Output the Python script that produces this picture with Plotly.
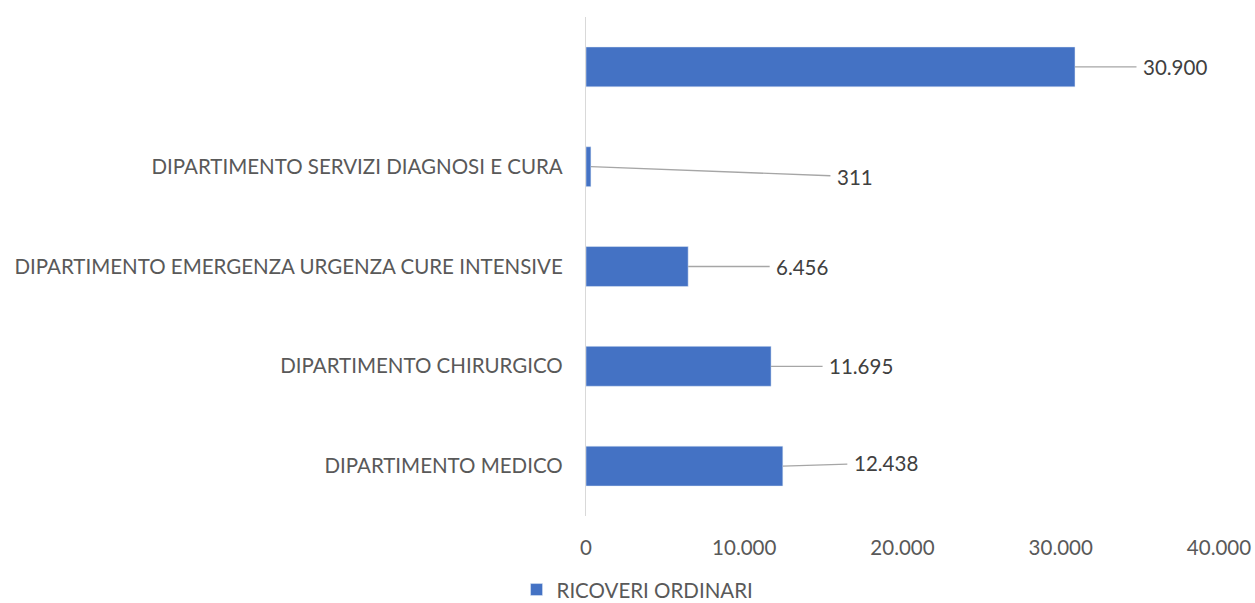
import plotly.graph_objects as go

categories = [
    "DIPARTIMENTO MEDICO",
    "DIPARTIMENTO CHIRURGICO",
    "DIPARTIMENTO EMERGENZA URGENZA CURE INTENSIVE",
    "DIPARTIMENTO SERVIZI DIAGNOSI E CURA",
    " ",
]
values = [12438, 11695, 6456, 311, 30900]
series_name = "RICOVERI ORDINARI"
x_ticks = [0, 10000, 20000, 30000, 40000]

# label offsets (pixels) for leader lines
label_dx = [103, 90, 114, 264, 100]
label_dy = [-3, 0, 0, 10, 0]

FONT = "Lato"
TXT = "#595959"
FS = 20.5

def fmt(v):
    return f"{v:,}".replace(",", ".")

fig = go.Figure()
fig.add_trace(go.Bar(
    y=categories, x=values, orientation="h", name=series_name,
    marker=dict(color="#4472C4"), showlegend=True,
))

for c, v, dx, dy in zip(categories, values, label_dx, label_dy):
    fig.add_annotation(
        x=v, y=c, xref="x", yref="y", text=fmt(v),
        showarrow=True, arrowhead=0, arrowwidth=1.3, arrowcolor="#A6A6A6",
        ax=dx, ay=dy, axref="pixel", ayref="pixel",
        font=dict(family=FONT, size=FS, color="#404040"),
        borderpad=6,
    )

fig.update_layout(
    width=1255, height=603,
    margin=dict(l=586, r=36, t=17, b=87),
    paper_bgcolor="white", plot_bgcolor="white",
    separators=",.",
    bargap=0.6,
    font=dict(family=FONT, size=FS, color=TXT),
    xaxis=dict(range=[0, 40000], tickvals=x_ticks, tickformat=",d",
               showgrid=False, zeroline=False, showline=False, automargin=False,
               ticklabelstandoff=17, tickfont=dict(size=FS, color=TXT)),
    yaxis=dict(showline=True, linecolor="#D9D9D9", linewidth=1.3, automargin=False,
               showgrid=False, ticklabelstandoff=18,
               tickfont=dict(size=FS, color=TXT)),
    legend=dict(orientation="h", xref="container", yref="container",
                x=0.508, y=0.022, xanchor="center", yanchor="middle",
                font=dict(size=FS, color=TXT)),
)

fig.write_html(
    "out.html",
    config={"displayModeBar": False},
    post_script="document.body.style.margin='0';document.body.style.overflow='hidden';",
)
